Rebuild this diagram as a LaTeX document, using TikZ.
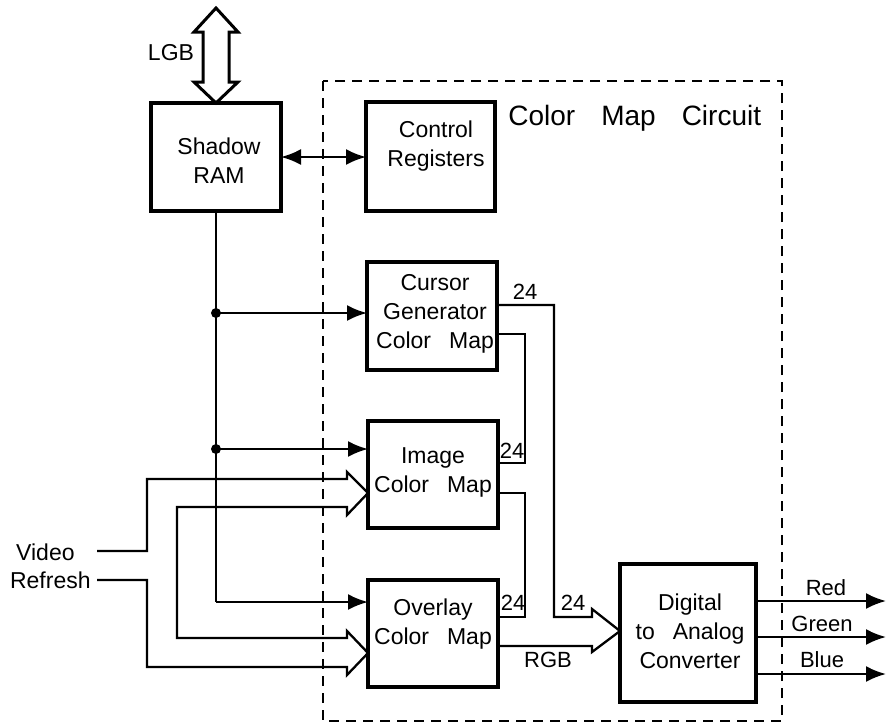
\documentclass[tikz,border=0pt]{standalone}
\usepackage{fontspec}
\setmainfont{Liberation Sans}
\usetikzlibrary{arrows.meta,calc}
\begin{document}
\begin{tikzpicture}[x=0.5pt,y=-0.5pt,
  box/.style={draw,line width=1.6pt,inner sep=0pt,outer sep=0pt},
  txt/.style={font=\fontsize{11.5}{14.5}\selectfont,align=center,inner sep=0pt},
  small/.style={font=\fontsize{11}{13}\selectfont,inner sep=0pt},
  wire/.style={line width=1.15pt,line join=miter},
  arr/.style={wire,-{Latex[length=10pt,width=8pt]}},
  dbl/.style={wire,{Latex[length=10pt,width=8pt]}-{Latex[length=10pt,width=8pt]}},
  bus/.style={line width=1.5pt,line join=miter},
  circuit/.style={line width=1.1pt,dash pattern=on 5pt off 3.5pt},
  dot/.style={circle,fill,inner sep=0pt,minimum size=5pt}]
\useasboundingbox (0,0) rectangle (886,724);

% dashed enclosure
\draw[circuit] (323,81) rectangle (782,721);
\node[anchor=west,font=\fontsize{14}{16}\selectfont,inner sep=0pt] (cmc) at (508,118)
  {Color\hspace{13pt}Map\hspace{13pt}Circuit};

% boxes
\node[box,minimum width=65pt,minimum height=54pt] (sram) at (216,157) {};
\node[box,minimum width=64.5pt,minimum height=54.5pt] (ctrl) at (430.5,156.5) {};
\node[box,minimum width=65pt,minimum height=54pt] (cur) at (432,316) {};
\node[box,minimum width=65pt,minimum height=53.5pt] (img) at (433,474.5) {};
\node[box,minimum width=65pt,minimum height=53.5pt] (ovl) at (433,633.5) {};
\node[box,minimum width=68pt,minimum height=69pt] (dac) at (688,633) {};

% box texts
\node[txt] (sramt) at (219,161) {Shadow\\RAM};
\node[txt] (ctrlt) at (436,146) {Control\\Registers};
\node[txt] (curt) at (435,314) {Cursor\\Generator\\Color\hspace{9pt}Map};
\node[txt] (imgt) at (433,472.5) {Image\\Color\hspace{9pt}Map};
\node[txt] (ovlt) at (433,624) {Overlay\\Color\hspace{9pt}Map};
\node[txt] (dact) at (690,631) {Digital\\to\hspace{9pt}Analog\\Converter};

% LGB bus
\draw[bus] (sram.north) -- ++(-22,-21) -- ++(9,0) -- ++(0,-50) -- ++(-9,0)
  -- ++(22,-24) -- ++(22,24) -- ++(-9,0) -- ++(0,50) -- ++(9,0) -- cycle;
\node[txt] (lgb) at (171,53) {LGB};

% Shadow <-> Control
\draw[dbl] (sram.east) -- (sram.east -| ctrl.west);

% Shadow RAM distribution
\coordinate (j1) at (216,313);
\coordinate (j2) at (216,449);
\coordinate (j3) at (216,602);
\draw[wire] (sram.south) -- (j3);
\draw[arr] (j1) -- (j1 -| cur.west);
\draw[arr] (j2) -- (j2 -| img.west);
\draw[arr] (j3) -- (j3 -| ovl.west);
\node[dot] (d1) at (j1) {};
\node[dot] (d2) at (j2) {};

% Video Refresh bus
\node[txt,anchor=east] (vid) at (75,552) {Video};
\node[txt,anchor=east] (ref) at (91,580) {Refresh};
\coordinate (vin) at (97,551);
\coordinate (rin) at (97,580);
\draw[wire] (vin) -- (147,551) -- (147,479) -- (347,479) -- (347,472) -- (368,493)
  -- (347,515) -- (347,507) -- (177,507) -- (177,638) -- (347,638) -- (347,631)
  -- (368,653) -- (347,675) -- (347,667) -- (147,667) -- (147,580) -- (rin);

% outputs to DAC
\draw[wire] (ovl.east |- 0,646) -- (592,646) -- (592,652) -- (dac.west |- 0,631)
  -- (592,609) -- (592,617) -- (554,617) -- (554,305) -- (cur.east |- 0,305);
\draw[wire] (cur.east |- 0,334) -- (525,334) -- (525,463) -- (img.east |- 0,463);
\draw[wire] (img.east |- 0,493) -- (525,493) -- (525,617) -- (ovl.east |- 0,617);

\node[small] (n1) at (525,292) {24};
\node[small] (n2) at (512,451) {24};
\node[small] (n3) at (513,603) {24};
\node[small] (n4) at (573,603) {24};
\node[small] (rgb) at (548,660) {RGB};

% DAC outputs
\coordinate (rout) at (886,601);
\coordinate (gout) at (886,637);
\coordinate (bout) at (886,674);
\draw[arr] (dac.east |- rout) -- (rout);
\draw[arr] (dac.east |- gout) -- (gout);
\draw[arr] (dac.east |- bout) -- (bout);
\node[small] (red) at (826,588) {Red};
\node[small] (green) at (822,624) {Green};
\node[small] (blue) at (822,660) {Blue};
\end{tikzpicture}
\end{document}
